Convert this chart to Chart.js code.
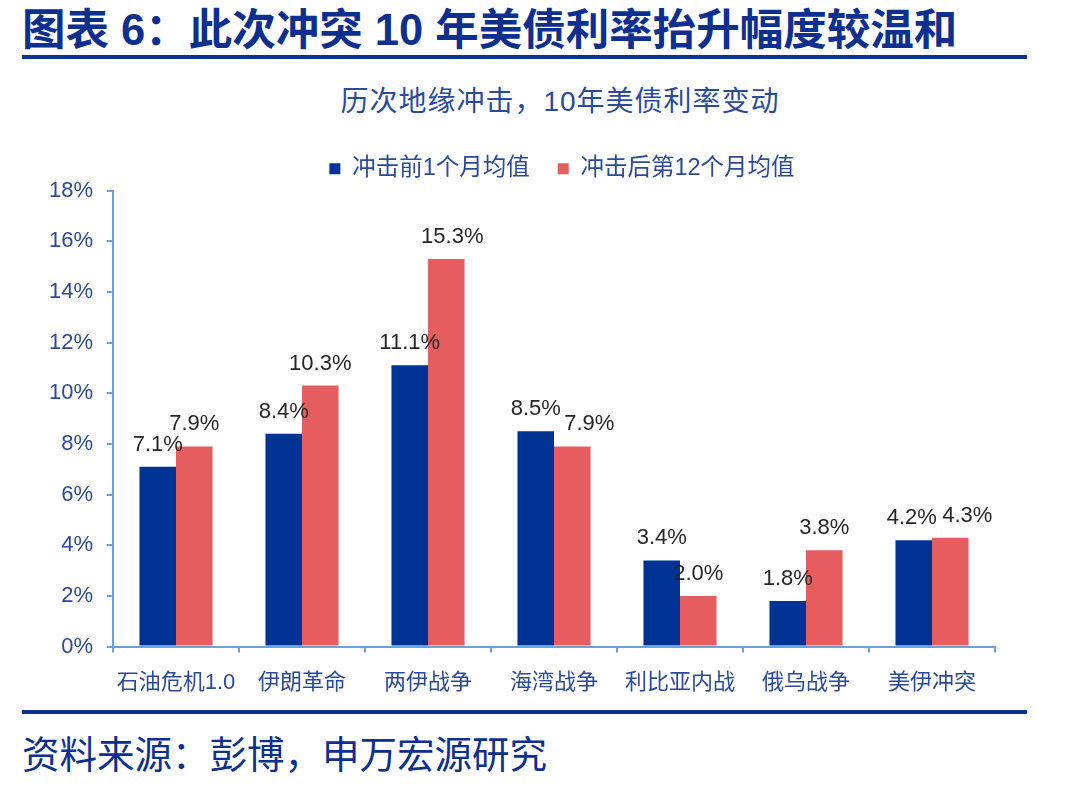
<!DOCTYPE html>
<html>
<head>
<meta charset="utf-8">
<script src="https://cdn.jsdelivr.net/npm/chart.js@4.4.1/dist/chart.umd.min.js"></script>
<style>
  html, body { margin: 0; padding: 0; background: #fff; }
  body { width: 1074px; height: 787px; position: relative; overflow: hidden;
         font-family: "Liberation Sans", "Noto Sans CJK SC", sans-serif; }
  .title { position: absolute; left: 22px; top: -5px; font-size: 43.5px; font-weight: bold;
           color: #0d2f8f; white-space: nowrap; }
  .rule { position: absolute; left: 22px; width: 1005px; height: 4px; background: #0a3196; }
  .subtitle { position: absolute; left: 0; width: 1120px; top: 79px; text-align: center;
              font-size: 28px; color: #2b4a9c; letter-spacing: 1px; white-space: nowrap; }
  .source { position: absolute; left: 22px; top: 724px; font-size: 37.5px; color: #0d2f8f;
            white-space: nowrap; }
  #wrap { position: absolute; left: 0; top: 129px; width: 1074px; height: 584px; }
</style>
</head>
<body>
<div class="title">图表 6：此次冲突 10 年美债利率抬升幅度较温和</div>
<div class="rule" style="top:55px"></div>
<div class="subtitle">历次地缘冲击，10年美债利率变动</div>
<div id="wrap"><canvas id="chart"></canvas></div>
<div class="rule" style="top:710px"></div>
<div class="source">资料来源：彭博，申万宏源研究</div>
<script>
const categories = ["石油危机1.0", "伊朗革命", "两伊战争", "海湾战争", "利比亚内战", "俄乌战争", "美伊冲突"];
const beforeValues = [7.1, 8.4, 11.1, 8.5, 3.4, 1.8, 4.2];
const afterValues = [7.9, 10.3, 15.3, 7.9, 2.0, 3.8, 4.3];
const seriesNames = ["冲击前1个月均值", "冲击后第12个月均值"];
const yTicks = [0, 2, 4, 6, 8, 10, 12, 14, 16, 18];

const axisColor = "#6fa0d8";
const labelBlue = "#2b4a9c";
const legendCenterX = 562;
// small sideways nudges for a few value labels, as in the original
const labelNudge = { "1-2": 6, "1-3": 17, "1-6": 17, "0-6": -2 };

// value labels drawn above each bar
const barLabels = {
  id: "barLabels",
  afterDatasetsDraw(chart) {
    const ctx = chart.ctx;
    ctx.save();
    ctx.font = '22px "Liberation Sans", Arial, sans-serif';
    ctx.fillStyle = "#262626";
    ctx.textAlign = "center";
    ctx.textBaseline = "alphabetic";
    chart.data.datasets.forEach((ds, i) => {
      chart.getDatasetMeta(i).data.forEach((bar, j) => {
        const dx = labelNudge[i + "-" + j] || 0;
        ctx.fillText(ds.data[j].toFixed(1) + "%", bar.x + dx, bar.y - 16);
      });
    });
    ctx.restore();
  },
};

// move the legend so it is centred over the whole figure, not the chart area
const legendShift = {
  id: "legendShift",
  beforeDraw(chart) {
    const l = chart.legend;
    if (!l) return;
    const d = legendCenterX - (l.left + l.right) / 2;
    l.left += d;
    l.right += d;
  },
};

new Chart(document.getElementById("chart").getContext("2d"), {
  type: "bar",
  data: {
    labels: categories,
    datasets: [
      {
        label: seriesNames[0],
        data: beforeValues,
        backgroundColor: "#003394",
        categoryPercentage: 0.58,
        barPercentage: 1.0,
      },
      {
        label: seriesNames[1],
        data: afterValues,
        backgroundColor: "#e55d5e",
        categoryPercentage: 0.58,
        barPercentage: 1.0,
      },
    ],
  },
  options: {
    responsive: true,
    maintainAspectRatio: false,
    animation: false,
    layout: {
      padding: { left: 0, right: 79, top: 0, bottom: 0 },
    },
    scales: {
      y: {
        min: 0,
        max: 18,
        afterBuildTicks: (scale) => {
          scale.ticks = yTicks.map((v) => ({ value: v }));
        },
        afterFit: (scale) => {
          scale.width = 113;
        },
        border: { display: true, color: axisColor, width: 2 },
        grid: { drawOnChartArea: false, drawTicks: true, tickLength: 6, color: axisColor, lineWidth: 2 },
        ticks: {
          padding: 14,
          color: labelBlue,
          font: { size: 22, family: '"Liberation Sans", Arial, sans-serif' },
          callback: (v) => v + "%",
        },
      },
      x: {
        border: { display: true, color: axisColor, width: 2 },
        grid: { drawOnChartArea: false, drawTicks: true, tickLength: 6, color: axisColor, lineWidth: 2, offset: true },
        ticks: {
          padding: 17,
          color: labelBlue,
          maxRotation: 0,
          font: { size: 22, family: '"Liberation Sans", "Noto Sans CJK SC", sans-serif' },
        },
      },
    },
    plugins: {
      legend: {
        display: true,
        position: "top",
        labels: {
          boxWidth: 11,
          boxHeight: 11,
          padding: 28,
          color: labelBlue,
          font: { size: 23.5, family: '"Liberation Sans", "Noto Sans CJK SC", sans-serif' },
        },
      },
      tooltip: { enabled: false },
    },
  },
  plugins: [barLabels, legendShift],
});
</script>
</body>
</html>
